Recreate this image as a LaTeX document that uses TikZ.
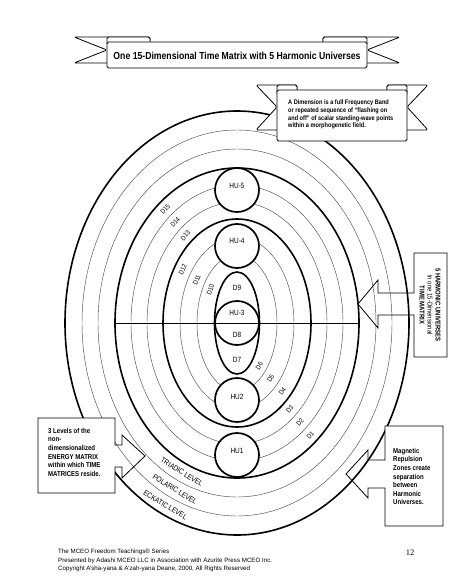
\documentclass[tikz,border=0pt]{standalone}
\usepackage{fontspec}
\setmainfont{Liberation Sans}
\newfontfamily\narrowsf[FakeStretch=0.85]{Liberation Sans}
\newfontfamily\serifnum{Liberation Serif}
\usetikzlibrary{calc}

\begin{document}
\begin{tikzpicture}[
        x=1pt,y=-1pt
        ,thinring/.style={draw=black!70,line width=0.45pt}
        ,boldring/.style={draw=black,line width=1.6pt}
        ,hu/.style={circle,draw=black,line width=1.7pt,fill=white,minimum size=44pt,inner sep=0pt}
        ,hulab/.style={font=\narrowsf\fontsize{7.6}{8}\selectfont,inner sep=0pt}
        ,dlab/.style={font=\narrowsf\fontsize{6.8}{7}\selectfont,inner sep=0pt}
        ,levlab/.style={font=\narrowsf\fontsize{7.6}{8}\selectfont,inner sep=0pt}
        ,ribbon/.style={draw=black,fill=white,line width=0.8pt,rounded corners=1.5pt}
        ,callout/.style={draw=black,line width=0.8pt}
        ,note/.style={font=\narrowsf\bfseries\fontsize{7.1}{8.6}\selectfont,align=left,inner sep=0pt,anchor=north west}
    ]
    \useasboundingbox (0,0) rectangle (474,585);
    % Центр матрицы
    \coordinate (c) at (237,323);
    % Тонкие кольца
    \draw[thinring] (c) ellipse [x radius=40,y radius=68];
    \draw[thinring] (c) ellipse [x radius=57,y radius=86];
    \draw[thinring] (c) ellipse [x radius=90,y radius=121];
    \draw[thinring] (c) ellipse [x radius=106,y radius=138];
    \draw[thinring] (c) ellipse [x radius=139,y radius=174];
    \draw[thinring] (c) ellipse [x radius=155,y radius=193];
    % Жирные кольца
    \draw[boldring] (c) ellipse [x radius=74,y radius=104];
    \draw[boldring] (c) ellipse [x radius=122,y radius=155];
    \draw[boldring] (c) ellipse [x radius=172,y radius=212];
    \filldraw[boldring,fill=white] (c) ellipse [x radius=22.5,y radius=51];
    % Гармонические вселенные
    \node[hu] (hu5) at (237,190) {};
    \node[hu] (hu4) at (237,246) {};
    \node[hu] (hu3) at (c) {};
    \node[hu] (hu2) at (237,400) {};
    \node[hu] (hu1) at (237,455) {};
    \node[hulab] (t5) at (237,186) {HU-5};
    \node[hulab] (t4) at (237,241) {HU-4};
    \node[hulab] (t9) at (237,288) {D9};
    \node[hulab] (t3) at (237,313) {HU-3};
    \node[hulab] (t8) at (237,335) {D8};
    \node[hulab] (t7) at (237,360) {D7};
    \node[hulab] (t2) at (237,397) {HU2};
    \node[hulab] (t1) at (237,451) {HU1};
    % Горизонтальная ось
    \coordinate (hl) at ($(c)+(-122,0)$);
    \coordinate (hr) at ($(c)+(122,0)$);
    \draw[line width=0.8pt] (hl) -- (hr);
    % Измерения
    \node[dlab,rotate=70] (d10) at ($(c)+(214:32 and 60)$) {D10};
    \node[dlab,rotate=67] (d11) at ($(c)+(214:48.5 and 77)$) {D11};
    \node[dlab,rotate=65] (d12) at ($(c)+(214:65.5 and 95)$) {D12};
    \node[dlab,rotate=50] (d13) at ($(c)+(231:82 and 112.5)$) {D13};
    \node[dlab,rotate=49] (d14) at ($(c)+(231:98 and 129.5)$) {D14};
    \node[dlab,rotate=48] (d15) at ($(c)+(231:114 and 146.5)$) {D15};
    \node[dlab,rotate=61] (d6) at ($(c)+(46:32 and 60)$) {D6};
    \node[dlab,rotate=57] (d5) at ($(c)+(46:48.5 and 77)$) {D5};
    \node[dlab,rotate=54] (d4) at ($(c)+(46:65.5 and 95)$) {D4};
    \node[dlab,rotate=50] (d3) at ($(c)+(50:82 and 112.5)$) {D3};
    \node[dlab,rotate=49] (d2) at ($(c)+(50:98 and 129.5)$) {D2};
    \node[dlab,rotate=48] (d1) at ($(c)+(50:114 and 146.5)$) {D1};
    % Уровни
    \node[levlab,rotate=-31.5] (tri) at ($(c)+(115:130.5 and 164.5)$) {TRIADIC LEVEL};
    \node[levlab,rotate=-31.3] (pol) at ($(c)+(115:147 and 183.5)$) {POLARIC LEVEL};
    \node[levlab,rotate=-31] (eck) at ($(c)+(116:163.5 and 202.5)$) {ECKATIC LEVEL};
    % Выноска справа
    \draw[callout] (414,253) -- (447,253) -- (447,357) -- (414,357) -- (414,315) -- (378,315)
        -- (378,328) -- (358,304) -- (378,280) -- (378,293) -- (414,293) -- cycle;
    \node[font=\narrowsf\fontsize{7}{8}\selectfont,align=center,rotate=-90,inner sep=0pt] (hunote) at (430,305)
        {\bfseries 5 HARMONIC UNIVERSES\\In one 15-Dimensional\\\bfseries TIME MATRIX};
    % Выноска слева
    \fill[white] (38,418) rectangle (115,493);
    \draw[callout] (38,418) -- (115,418) -- (115,445) -- (122,445) -- (122,435) -- (145,456)
        -- (122,478) -- (122,467) -- (115,467) -- (115,493) -- (38,493) -- cycle;
    \node[note] (levnote) at (48,428) {3 Levels of the\\non-\\dimensionalized\\ENERGY MATRIX\\within which TIME\\MATRICES reside.};
    % Выноска снизу справа
    \fill[white] (385,426) rectangle (443,526);
    \draw[callout] (443,426) -- (385,426) -- (385,460) -- (368,460) -- (368,450) -- (346,474)
        -- (368,498) -- (368,488) -- (385,488) -- (385,526) -- (443,526) -- cycle;
    \node[note] (magnote) at (393,448) {Magnetic\\Repulsion\\Zones create\\separation\\between\\Harmonic\\Universes.};
    % Лента заголовка
    \filldraw[ribbon] (150,37) -- (74,37) -- (107,50) -- (74,63) -- (150,63) -- cycle;
    \filldraw[ribbon] (323,37) -- (400,37) -- (367,50) -- (400,63) -- (323,63) -- cycle;
    \filldraw[ribbon] (107,37) rectangle (150,45);
    \filldraw[ribbon] (323,37) rectangle (367,45);
    \filldraw[ribbon] (107,42) rectangle (367,68);
    \node[font=\narrowsf\bfseries\fontsize{10.2}{11}\selectfont,inner sep=0pt] (title) at (237,55.5)
        {One 15-Dimensional Time Matrix with 5 Harmonic Universes};
    % Лента с определением
    \filldraw[ribbon] (297,85) -- (256,85) -- (277,107) -- (256,130) -- (297,130) -- cycle;
    \filldraw[ribbon] (387,85) -- (428,85) -- (407,107) -- (428,130) -- (387,130) -- cycle;
    \filldraw[ribbon] (277,85) rectangle (297,95);
    \filldraw[ribbon] (387,85) rectangle (407,95);
    \filldraw[ribbon] (277,90) rectangle (407,141);
    \node[note,font=\narrowsf\bfseries\fontsize{6.6}{7.6}\selectfont] (dimnote) at (288,100)
        {A Dimension is a full Frequency Band\\or repeated sequence of “flashing on\\and off” of scalar standing-wave points\\within a morphogenetic field.};
    % Подвал
    \node[font=\fontsize{6.2}{8.5}\selectfont,align=left,anchor=north west,inner sep=0pt] (foot) at (58,549)
        {The MCEO Freedom Teachings® Series\\Presented by Adashi MCEO LLC in Association with Azurite Press MCEO Inc.\\Copyright A'sha-yana \& A'zah-yana Deane, 2000, All Rights Reserved};
    \node[font=\serifnum\fontsize{8.5}{9}\selectfont,inner sep=0pt] (pnum) at (410,553) {12};
\end{tikzpicture}
\end{document}
